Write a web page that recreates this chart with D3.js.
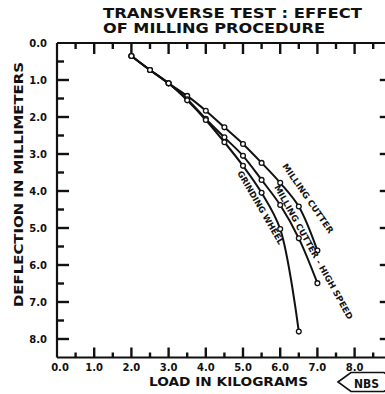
<!DOCTYPE html>
<html><head><meta charset="utf-8">
<script src="https://cdn.jsdelivr.net/npm/d3@7"></script>
<style>
body{margin:0;background:#fff;}
text{font-family:"DejaVu Sans",sans-serif;font-weight:bold;fill:#111;}
</style></head>
<body><svg id="c" width="385" height="394"></svg>
<script>
const loads = [2.0,2.5,3.0,3.5,4.0,4.5,5.0,5.5,6.0,6.5,7.0];
const millingCutter = [0.35,0.73,1.09,1.43,1.83,2.28,2.73,3.24,3.78,4.42,5.61];
const millingHighSpeed = [0.35,0.73,1.09,1.52,2.05,2.55,3.05,3.70,4.38,5.28,6.49];
const grindingWheel = [0.35,0.73,1.09,1.55,2.08,2.68,3.32,4.05,5.03,7.80];
const xTicks = [0,1,2,3,4,5,6,7,8];
const yTicks = [0,1,2,3,4,5,6,7,8];
const titleLines = ["TRANSVERSE TEST : EFFECT","OF MILLING PROCEDURE"];

const svg = d3.select("#c");
const x = d3.scaleLinear().domain([0,9]).range([57,57+9*37.2]);
const y = d3.scaleLinear().domain([0,8.5]).range([43,357.5]);
const halves = d3.range(0.5,9,1);
const yHalves = d3.range(0.5,8.5,1);
const ink="#111";
const fmt = d3.format(".1f");

svg.append("text").attr("x",103).attr("y",18).attr("font-size",14.5)
  .attr("textLength",259).attr("lengthAdjust","spacingAndGlyphs").text(titleLines[0]);
svg.append("text").attr("x",103).attr("y",33).attr("font-size",14.5)
  .attr("textLength",222).attr("lengthAdjust","spacingAndGlyphs").text(titleLines[1]);

const frame = svg.append("g").attr("stroke",ink).attr("fill","none");
frame.append("path").attr("stroke-width",2.2)
  .attr("d",`M${x(0)},${y(0)}H${x(9)}M${x(0)},${y(8.5)}H${x(9)}M${x(0)},${y(0)}V${y(8.5)}M${x(9)},${y(0)}V${y(8.5)}`);

const tk = svg.append("g").attr("stroke",ink).attr("stroke-width",2.4);
function vt(vals,y0,len){ vals.forEach(v=>tk.append("line").attr("x1",x(v)).attr("x2",x(v)).attr("y1",y0).attr("y2",y0+len)); }
function ht(vals,x0,len){ vals.forEach(v=>tk.append("line").attr("y1",y(v)).attr("y2",y(v)).attr("x1",x0).attr("x2",x0+len)); }
vt(xTicks.slice(1), y(8.5), -10);
vt(halves, y(8.5), -5);
vt(xTicks.slice(1), y(0), 11);
vt(halves, y(0), 6);
ht(yTicks.slice(1), x(0), 12);
ht(yHalves, x(0), 7);
ht(yTicks.slice(1), x(9), -12);

svg.append("g").selectAll("text").data(yTicks).join("text")
  .attr("x",47).attr("y",v=>y(v)+4).attr("text-anchor","end").attr("font-size",10).text(fmt);
svg.append("g").selectAll("text").data(xTicks).join("text")
  .attr("x",v=>x(v)+(v===0?3:0)).attr("y",371).attr("text-anchor","middle").attr("font-size",10).text(fmt);

svg.append("text").attr("transform","translate(23,184.5) rotate(-90)").attr("text-anchor","middle")
  .attr("font-size",13).attr("textLength",245).attr("lengthAdjust","spacingAndGlyphs").text("DEFLECTION IN MILLIMETERS");
svg.append("text").attr("x",149).attr("y",386).attr("font-size",12)
  .attr("textLength",159).attr("lengthAdjust","spacingAndGlyphs").text("LOAD IN KILOGRAMS");

const series = [
  {name:"mc", ys:millingCutter},
  {name:"hs", ys:millingHighSpeed},
  {name:"gw", ys:grindingWheel}
];
const line = d3.line().x(p=>x(p[0])).y(p=>y(p[1])).curve(d3.curveCatmullRom.alpha(0.5));
series.forEach(s=>{
  const pts = s.ys.map((v,i)=>[loads[i],v]);
  svg.append("path").attr("d",line(pts)).attr("fill","none").attr("stroke",ink).attr("stroke-width",2);
  svg.append("g").selectAll("circle").data(pts).join("circle")
    .attr("cx",p=>x(p[0])).attr("cy",p=>y(p[1])).attr("r",2.4)
    .attr("fill","#fff").attr("stroke",ink).attr("stroke-width",1.3);
});

function lab(txt,x1,y1,x2,y2,fs){
  const ang = Math.atan2(y2-y1,x2-x1)*180/Math.PI;
  const len = Math.hypot(x2-x1,y2-y1);
  svg.append("text").attr("transform",`translate(${x1},${y1}) rotate(${ang})`)
    .attr("font-size",fs).attr("textLength",len).attr("lengthAdjust","spacingAndGlyphs").text(txt);
}
lab("MILLING CUTTER",282,166,329,234,8.5);
lab("MILLING CUTTER - HIGH SPEED",274,187,348,320,8.5);
lab("GRINDING WHEEL",237,173,279,245,8.5);

const logo = [[338,382],[351,372.5],[384,372.5],[398,382],[384,391.5],[351,391.5]];
svg.append("polygon").attr("points",logo.map(p=>p.join(",")).join(" "))
  .attr("fill","#fff").attr("stroke",ink).attr("stroke-width",1.6);
svg.append("text").attr("x",354).attr("y",388).attr("font-size",13)
  .attr("font-family","Liberation Serif").attr("textLength",25).attr("lengthAdjust","spacingAndGlyphs").text("NBS");
</script></body></html>
